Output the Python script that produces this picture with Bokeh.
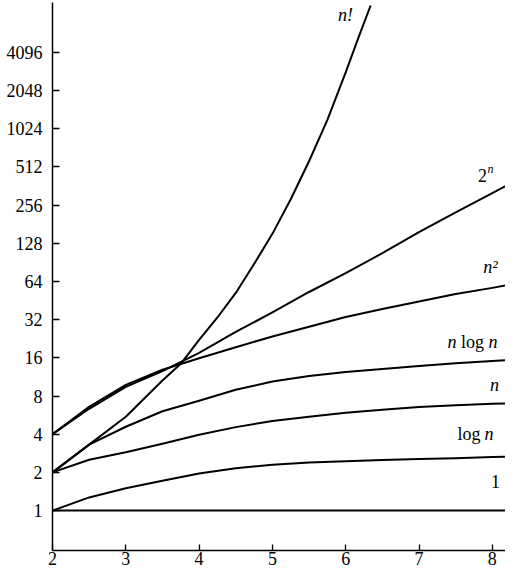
from bokeh.plotting import figure
from bokeh.models import Range1d, FixedTicker, PrintfTickFormatter, Label
from bokeh.embed import file_html
from bokeh.resources import INLINE

# ---- data ----
x_grid = [2, 2.5, 3, 3.5, 4, 4.5, 5, 5.5, 6, 6.5, 7, 7.5, 8, 8.25]
const_one = [1, 1, 1, 1, 1, 1, 1, 1, 1, 1, 1, 1, 1, 1]
log_n = [1, 1.27, 1.5, 1.72, 1.96, 2.16, 2.3, 2.39, 2.45, 2.5, 2.55, 2.59, 2.64, 2.66]
lin_n = [2, 2.52, 2.88, 3.37, 3.96, 4.55, 5.08, 5.5, 5.9, 6.25, 6.55, 6.78, 6.95, 7.0]
n_log_n = [2, 3.31, 4.58, 6.07, 7.34, 8.96, 10.4, 11.5, 12.4, 13.1, 13.8, 14.5, 15.1, 15.4]
n_sq = [4, 6.58, 9.81, 12.9, 15.9, 19.4, 23.6, 28.1, 33.6, 38.9, 44.5, 51.0, 57.0, 60.5]
two_n = [4, 6.35, 9.46, 12.6, 17.5, 25.6, 36.5, 52.9, 74.6, 107, 157, 224, 318, 381]
fact_x = [2, 2.5, 3, 3.5, 3.75, 4, 4.25, 4.5, 4.75, 5, 5.25, 5.5, 5.75, 6, 6.17, 6.34]
fact_n = [2, 3.31, 5.49, 10.6, 14.35, 22.2, 33.3, 52.0, 87.9, 152, 285, 568, 1205, 2850, 5280, 9600]

x_ticks = [2, 3, 4, 5, 6, 7, 8]
y_ticks = [1, 2, 4, 8, 16, 32, 64, 128, 256, 512, 1024, 2048, 4096]

SERIF = "Liberation Serif"

p = figure(width=505, height=571,
           x_range=Range1d(2, 8.18), y_range=Range1d(0.4846, 10135),
           y_axis_type="log",
           output_backend="svg", toolbar_location=None,
           min_border_left=52, min_border_right=0,
           min_border_top=2, min_border_bottom=21)
p.outline_line_color = None
p.xgrid.visible = False
p.ygrid.visible = False
p.background_fill_color = "white"
p.border_fill_color = "white"

series = [(x_grid, const_one), (x_grid, log_n), (x_grid, lin_n),
          (x_grid, n_log_n), (x_grid, n_sq), (x_grid, two_n), (fact_x, fact_n)]
for xs, ys in series:
    p.line(xs, ys, line_color="black", line_width=2, line_join="round")

# axes
for ax in (p.xaxis[0], p.yaxis[0]):
    ax.axis_line_color = "black"
    ax.axis_line_width = 1.5
    ax.major_tick_line_color = "black"
    ax.major_tick_line_width = 1.3
    ax.major_tick_out = 0
    ax.minor_tick_line_color = None
    ax.major_label_text_font = SERIF
    ax.major_label_text_color = "black"

p.xaxis.ticker = FixedTicker(ticks=x_ticks)
p.xaxis.major_tick_in = 6
p.xaxis.major_label_standoff = 1
p.xaxis.major_label_text_font_size = "18px"

p.yaxis.ticker = FixedTicker(ticks=y_ticks)
p.yaxis.formatter = PrintfTickFormatter(format="%d")
p.yaxis.major_tick_in = 7
p.yaxis.major_label_standoff = 10
p.yaxis.major_label_text_font_size = "18px"

# curve labels: (x, y, [(text, style, size, align, x_off_px, y_off_px)])
curve_labels = [
    (5.997, 8010, [("n!", "italic", "18px", "center", 0, 0)]),
    (7.906, 441, [("2", "normal", "18px", "center", -3, 0),
                  ("n", "italic", "12px", "left", 2, 6)]),
    (7.975, 83.2, [("n²", "italic", "18px", "center", 0, 0)]),
    (7.730, 21.4, [("n", "italic", "18px", "left", -25, 0),
                   ("log", "normal", "18px", "center", 0, 0),
                   ("n", "italic", "18px", "left", 16, 0)]),
    (8.030, 9.81, [("n", "italic", "18px", "center", 0, 0)]),
    (7.771, 4.04, [("log", "normal", "18px", "left", -18, 0),
                   ("n", "italic", "18px", "left", 9, 0)]),
    (8.044, 1.69, [("1", "normal", "18px", "center", 0, 0)]),
]
for lx, ly, segs in curve_labels:
    for txt, style, size, align, xo, yo in segs:
        p.add_layout(Label(x=lx, y=ly, text=txt, x_offset=xo, y_offset=yo,
                           text_font=SERIF, text_font_style=style,
                           text_font_size=size, text_color="black",
                           text_align=align, text_baseline="middle"))

open("out.html", "w").write(file_html(p, INLINE))
